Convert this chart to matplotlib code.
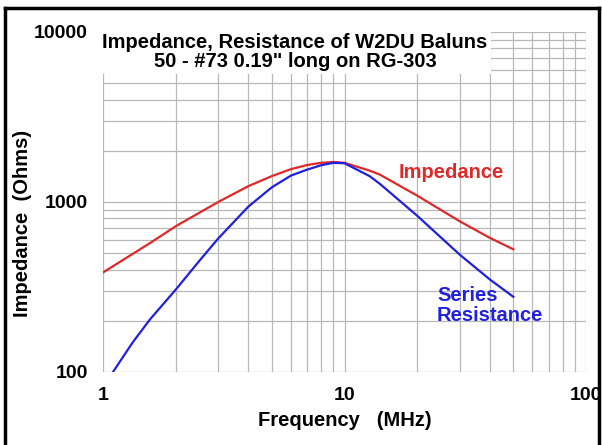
import matplotlib
matplotlib.use("Agg")
import matplotlib.pyplot as plt
from matplotlib.lines import Line2D

plt.rcParams["font.family"] = ["Liberation Sans", "DejaVu Sans"]
plt.rcParams["font.weight"] = "bold"

# data
freq_imp = [1, 1.57, 2, 3, 4, 5, 6, 7, 8, 9, 10, 12.7, 14, 20, 30, 40, 50]
impedance = [385, 575, 720, 1000, 1240, 1420, 1560, 1650, 1700, 1720, 1700,
             1530, 1450, 1090, 770, 615, 527]
freq_res = [1.1, 1.33, 1.57, 2, 2.52, 3, 4, 5, 6, 7, 8, 9, 10, 12.7, 14,
            20, 30, 40, 50]
resistance = [100, 150, 205, 305, 455, 610, 940, 1220, 1430, 1550, 1645,
              1700, 1690, 1420, 1280, 830, 490, 350, 277]

xticks = [1, 10, 100]
yticks = [100, 1000, 10000]
title = "Impedance, Resistance of W2DU Baluns\n50 - #73 0.19\" long on RG-303"

RED = "#e02828"
BLUE = "#2020e0"

fig = plt.figure(figsize=(6.02, 4.45), dpi=100)
ax = fig.add_axes([103 / 602, 1 - 372 / 445, (586 - 103) / 602, (372 - 32) / 445])
ax.set_xscale("log"); ax.set_yscale("log")
ax.set_xlim(1, 100); ax.set_ylim(100, 10000)

ax.grid(True, which="both", color="#b8b8b8", lw=0.9)
ax.set_axisbelow(True)
for s in ax.spines.values():
    s.set_visible(False)
ax.tick_params(which="both", length=0)
ax.tick_params(axis="y", pad=11, labelsize=14)
ax.tick_params(axis="x", pad=11, labelsize=14)
ax.set_xticks(xticks); ax.set_xticklabels([str(t) for t in xticks])
ax.set_yticks(yticks); ax.set_yticklabels([str(t) for t in yticks])
ax.minorticks_on()
ax.xaxis.set_minor_formatter(plt.NullFormatter())
ax.yaxis.set_minor_formatter(plt.NullFormatter())

ax.plot(freq_imp, impedance, color=RED, lw=1.6, zorder=3)
ax.plot(freq_res, resistance, color=BLUE, lw=1.6, zorder=3)

ax.set_xlabel("Frequency   (MHz)", fontsize=14.5, fontweight="bold", va="center")
ax.set_ylabel("Impedance  (Ohms)", fontsize=14.5, fontweight="bold", va="center")
ax.xaxis.set_label_coords(0.5, (372 - 420) / 340)
ax.yaxis.set_label_coords((23 - 103) / 483, (372 - 223) / 340)

# white box behind the title
fig.patches.append(plt.Rectangle((98 / 602, 1 - 74 / 445), (491 - 98) / 602, 46 / 445,
                                 transform=fig.transFigure, facecolor="white",
                                 edgecolor="none", zorder=1))
fig.text(295 / 602, 1 - 52 / 445, title, ha="center", va="center",
         fontsize=14.5, fontweight="bold", linespacing=1.05, zorder=3)

fig.text(399 / 602, 1 - 172 / 445, "Impedance", color=RED, fontsize=14.5,
         fontweight="bold", va="center", ha="left")
fig.text(437 / 602, 1 - 305.5 / 445, "Series\nResistance", color=BLUE,
         fontsize=14.5, fontweight="bold", va="center", ha="left", linespacing=1.05)

# frame round the picture
for xs, ys in [([5 / 602, 5 / 602], [0, 1 - 8 / 445]),
               ([5 / 602, 599 / 602], [1 - 8 / 445, 1 - 8 / 445]),
               ([599 / 602, 599 / 602], [0, 1 - 8 / 445])]:
    fig.add_artist(Line2D(xs, ys, color="black", lw=2.5))

fig.savefig("out.png", dpi=100)
